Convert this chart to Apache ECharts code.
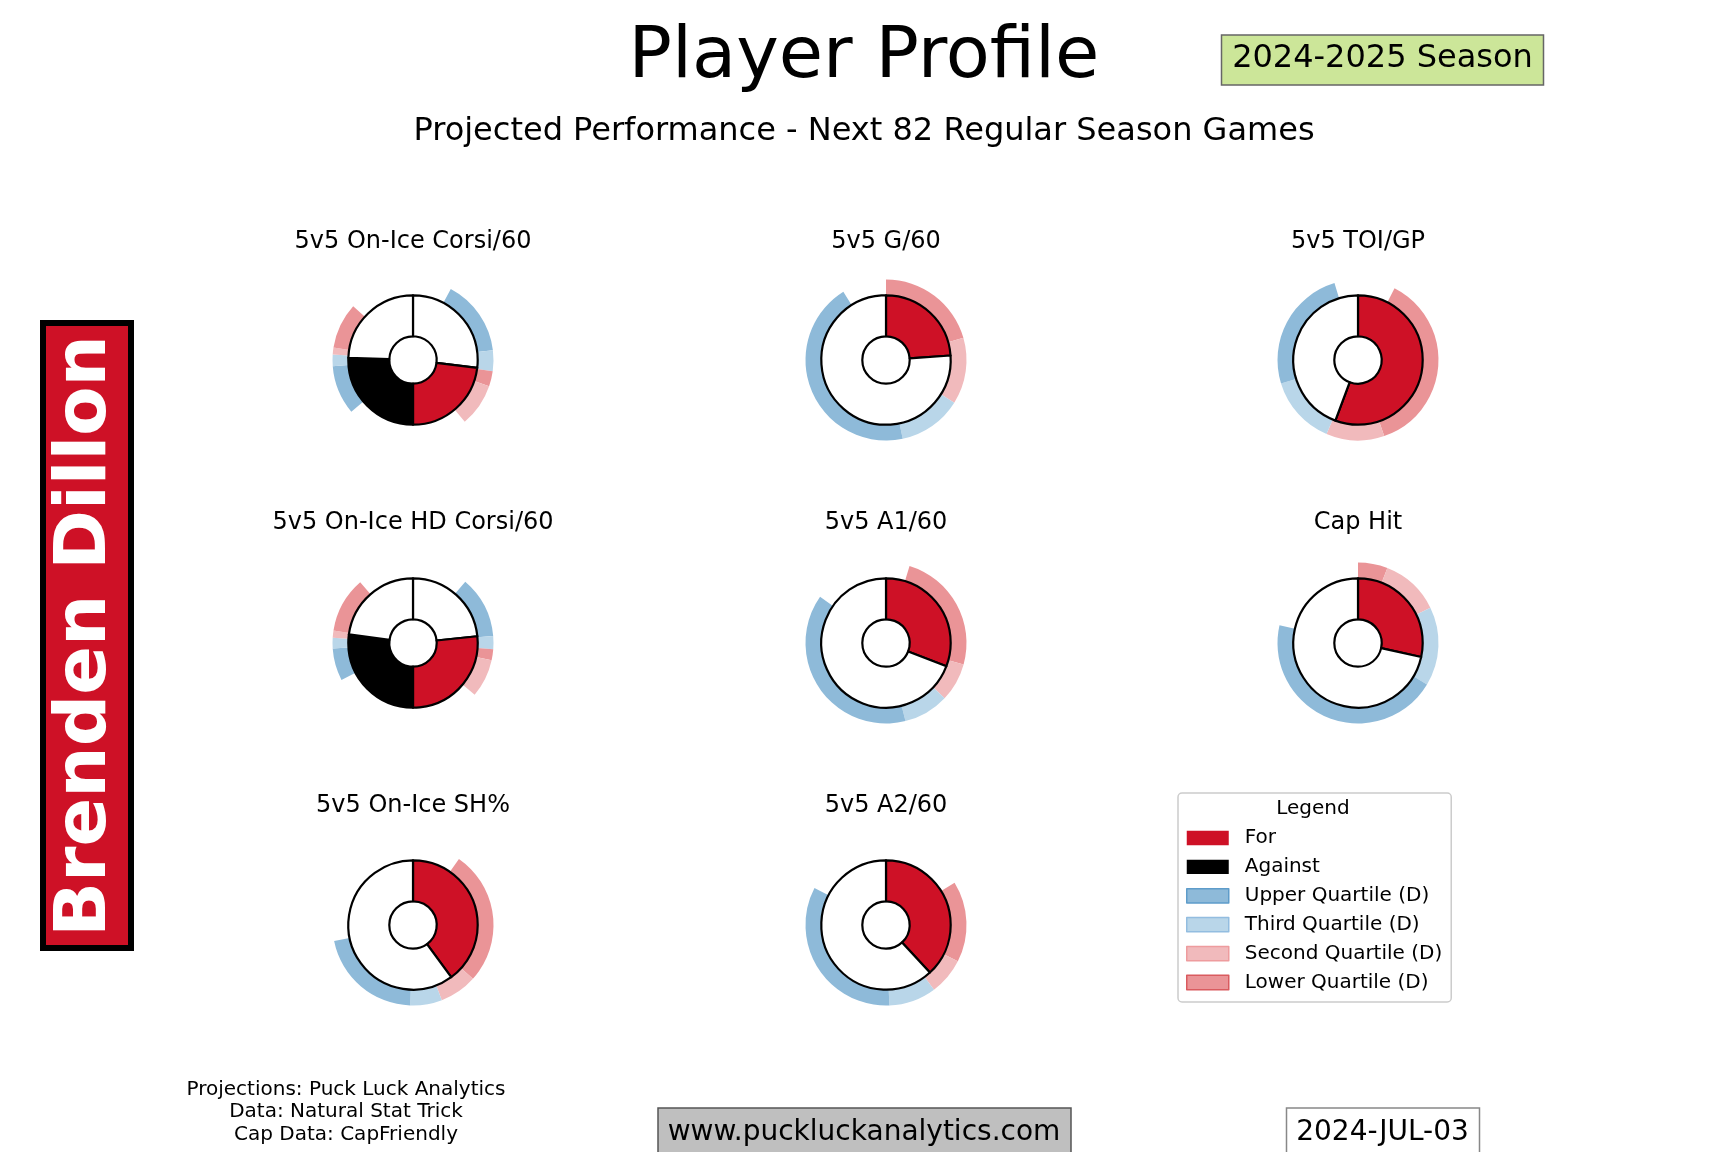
<!DOCTYPE html>
<html>
<head>
<meta charset="utf-8">
<script src="https://cdn.jsdelivr.net/npm/echarts@6/dist/echarts.min.js"></script>
<style>
  html, body { margin: 0; padding: 0; background: #fff; }
  #main { width: 1728px; height: 1152px; }
</style>
</head>
<body>
<div id="main"></div>
<script>
// titles of the 8 donuts, in reading order
const titles = ['5v5 On-Ice Corsi/60', '5v5 G/60', '5v5 TOI/GP',
  '5v5 On-Ice HD Corsi/60', '5v5 A1/60', 'Cap Hit',
  '5v5 On-Ice SH%', '5v5 A2/60'];

// inner wedges: spans in degrees, clockwise from 12 o'clock
const innerSpans = [
  [97, 83, 92, 88],
  [86, 274],
  [200.5, 159.5],
  [84, 96, 97.6, 82.4],
  [111, 249],
  [102.5, 257.5],
  [143.8, 216.2],
  [137.3, 222.7]
];
const innerKinds = [
  ['none', 'for', 'against', 'none'],
  ['for', 'none'],
  ['for', 'none'],
  ['none', 'for', 'against', 'none'],
  ['for', 'none'],
  ['for', 'none'],
  ['for', 'none'],
  ['for', 'none']
];

// outer quartile ring: spans in degrees, clockwise from 12 o'clock
const ringSpans = [
  [28, 55, 15, 11, 31, 90, 35.5, 8.5, 5, 33, 48],
  [74, 48, 46, 160, 32],
  [27, 134, 42, 50, 90, 17],
  [40.5, 44.5, 9.5, 7.9, 27.6, 112.7, 23.3, 7.8, 5.2, 40, 41],
  [17, 88.4, 27.9, 32.7, 139, 55],
  [21.4, 42.6, 57, 161.8, 77.2],
  [34.8, 97.1, 27.1, 23, 76.5, 101.5],
  [58.4, 58.4, 26.6, 34.2, 119.7, 62.7]
];
const ringKinds = [
  ['gap', 'uq', 'tq', 'lq', 'sq', 'gap', 'uq', 'tq', 'sq', 'lq', 'gap'],
  ['lq', 'sq', 'tq', 'uq', 'gap'],
  ['gap', 'lq', 'sq', 'tq', 'uq', 'gap'],
  ['gap', 'uq', 'tq', 'lq', 'sq', 'gap', 'uq', 'tq', 'sq', 'lq', 'gap'],
  ['gap', 'lq', 'sq', 'tq', 'uq', 'gap'],
  ['lq', 'sq', 'tq', 'uq', 'gap'],
  ['gap', 'lq', 'sq', 'tq', 'uq', 'gap'],
  ['gap', 'lq', 'sq', 'tq', 'uq', 'gap']
];

const legendNames = ['For', 'Against', 'Upper Quartile (D)', 'Third Quartile (D)',
  'Second Quartile (D)', 'Lower Quartile (D)'];

const kindName = {
  for: 'For', against: 'Against', uq: 'Upper Quartile (D)', tq: 'Third Quartile (D)',
  sq: 'Second Quartile (D)', lq: 'Lower Quartile (D)', none: 'blank', gap: 'gap'
};
const kindColor = {
  for: '#ce1126', against: '#000000', uq: '#8ebad9', tq: '#b9d6e9',
  sq: '#f1babc', lq: '#ea9497', none: '#ffffff', gap: 'rgba(0,0,0,0)'
};
const kindEdge = { uq: '#5e9cca', tq: '#93bde0', sq: '#ee9c9e', lq: '#d95b5f' };

const FONT = '"DejaVu Sans", sans-serif';
const colX = [413, 886, 1358];
const rowY = [360, 643, 925];
const titleY = [241.5, 523, 805.5];
const R_HOLE = 23.7, R_PIE = 64.7, R_RING = 80.5;

const chart = echarts.init(document.getElementById('main'), null, { renderer: 'canvas' });

const series = [];
const graphic = [];

function txt(x, y, text, size, opts) {
  opts = opts || {};
  return {
    type: 'text', x: x, y: y, rotation: opts.rotation || 0, z: 10,
    style: {
      text: text, fill: opts.fill || '#000',
      font: (opts.weight || 'normal') + ' ' + size + 'px ' + FONT,
      textAlign: 'center', textVerticalAlign: 'middle'
    }
  };
}

titles.forEach(function (t, i) {
  const cx = colX[i % 3], cy = rowY[Math.floor(i / 3)];
  series.push({
    type: 'pie', z: 1, silent: true, animation: false,
    center: [cx, cy], radius: [R_PIE, R_RING],
    startAngle: 90, clockwise: true,
    label: { show: false }, labelLine: { show: false },
    data: ringSpans[i].map(function (v, j) {
      return { name: kindName[ringKinds[i][j]], value: v,
        itemStyle: { color: kindColor[ringKinds[i][j]], borderWidth: 0 } };
    })
  });
  series.push({
    type: 'pie', z: 2, silent: true, animation: false,
    center: [cx, cy], radius: [R_HOLE, R_PIE],
    startAngle: 90, clockwise: true,
    label: { show: false }, labelLine: { show: false },
    itemStyle: { borderColor: '#000', borderWidth: 2.2 },
    data: innerSpans[i].map(function (v, j) {
      return { name: kindName[innerKinds[i][j]], value: v,
        itemStyle: { color: kindColor[innerKinds[i][j]] } };
    })
  });
  graphic.push(txt(cx, titleY[Math.floor(i / 3)], t, 24));
});

// header
graphic.push(txt(864, 58.5, 'Player Profile', 72));
graphic.push(txt(864, 131.5, 'Projected Performance - Next 82 Regular Season Games', 32));
graphic.push({ type: 'rect', z: 9, shape: { x: 1221.5, y: 35, width: 322, height: 50 },
  style: { fill: '#cce699', stroke: '#666666', lineWidth: 1.5 } });
graphic.push(txt(1382.5, 59, '2024-2025 Season', 32));

// player name
graphic.push({ type: 'rect', z: 9, shape: { x: 43, y: 323, width: 88, height: 625 },
  style: { fill: '#ce1126', stroke: '#000', lineWidth: 6 } });
graphic.push(txt(86, 636, 'Brenden Dillon', 72, { rotation: Math.PI / 2, fill: '#fff', weight: 'bold' }));

// legend title
graphic.push(txt(1313, 809, 'Legend', 20));

// footer
graphic.push(txt(346, 1090, 'Projections: Puck Luck Analytics', 20));
graphic.push(txt(346, 1112, 'Data: Natural Stat Trick', 20));
graphic.push(txt(346, 1135, 'Cap Data: CapFriendly', 20));
graphic.push({ type: 'rect', z: 9, shape: { x: 658, y: 1108, width: 413, height: 60 },
  style: { fill: '#bfbfbf', stroke: '#555555', lineWidth: 1.5 } });
graphic.push(txt(864, 1133, 'www.puckluckanalytics.com', 28));
graphic.push({ type: 'rect', z: 9, shape: { x: 1286.5, y: 1108, width: 193, height: 60 },
  style: { fill: '#ffffff', stroke: '#888888', lineWidth: 1.5 } });
graphic.push(txt(1382.5, 1133, '2024-JUL-03', 28));

const legendKinds = ['for', 'against', 'uq', 'tq', 'sq', 'lq'];

chart.setOption({
  animation: false,
  backgroundColor: '#ffffff',
  legend: {
    orient: 'vertical', left: 1178, top: 793,
    padding: [35, 9, 9.5, 8],
    itemWidth: 42, itemHeight: 14.3, itemGap: 8.9,
    backgroundColor: '#ffffff', borderColor: '#cccccc', borderWidth: 1.5, borderRadius: 4,
    selectedMode: false,
    textStyle: { fontFamily: FONT, fontSize: 20, color: '#000', lineHeight: 20, padding: [0, 0, 0, 11] },
    data: legendNames.map(function (n, i) {
      const k = legendKinds[i];
      return { name: n, icon: 'rect',
        itemStyle: { color: kindColor[k], borderColor: kindEdge[k] || kindColor[k], borderWidth: kindEdge[k] ? 1.5 : 0 } };
    })
  },
  series: series,
  graphic: graphic
});
</script>
</body>
</html>
